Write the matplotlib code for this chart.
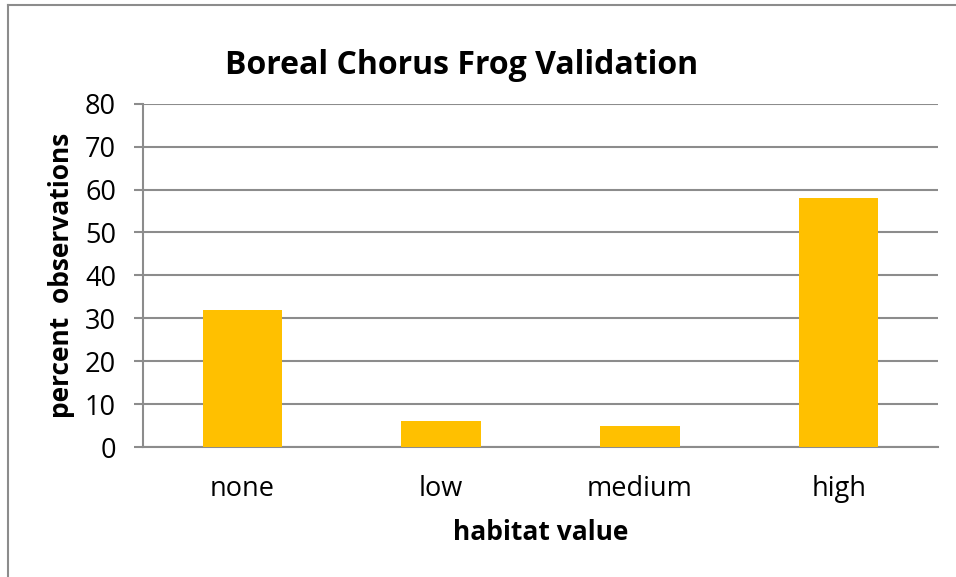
import matplotlib
matplotlib.use("Agg")
import matplotlib.pyplot as plt
from matplotlib.lines import Line2D

categories = ["none", "low", "medium", "high"]
values = [32, 6, 5, 58]
yticks = [0, 10, 20, 30, 40, 50, 60, 70, 80]

plt.rcParams['font.family'] = ['Open Sans', 'DejaVu Sans']

fig = plt.figure(figsize=(9.56, 5.77), dpi=100)
ax = fig.add_axes([143/956, 1-447/577, (938-143)/956, (447-103.7)/577])

grid_c = '#8c8c8c'
x = list(range(len(categories)))
ax.bar(x, values, width=0.4, color='#FFC000', zorder=3)
ax.set_xlim(-0.5, len(categories)-0.5)
ax.set_ylim(0, 80)
ax.set_yticks(yticks)
ax.set_xticks(x)
ax.set_xticklabels(categories)
ax.yaxis.grid(True, color=grid_c, linewidth=1.5, zorder=0)
for s in ['top', 'right']:
    ax.spines[s].set_visible(False)
for s in ['left', 'bottom']:
    ax.spines[s].set_color(grid_c)
    ax.spines[s].set_linewidth(1.5)
ax.tick_params(axis='y', length=6.5, width=1.5, color=grid_c, labelsize=19.5, pad=13)
ax.tick_params(axis='x', length=0, labelsize=19.5, pad=20)

ax.set_xlabel("habitat value", fontsize=19, fontweight='bold', labelpad=12)
ax.set_ylabel("percent  observations", fontsize=19, fontweight='bold', labelpad=7)
fig.text(461.5/956, 1-65/577, "Boreal Chorus Frog Validation", fontsize=23,
         fontweight='bold', ha='center', va='center')

fig.add_artist(Line2D([7.5/956, 7.5/956], [0, 1-4.5/577], transform=fig.transFigure,
                      color=grid_c, linewidth=1.5))
fig.add_artist(Line2D([7.5/956, 1], [1-4.5/577, 1-4.5/577], transform=fig.transFigure,
                      color=grid_c, linewidth=1.5))

fig.savefig("out.png", dpi=100)
